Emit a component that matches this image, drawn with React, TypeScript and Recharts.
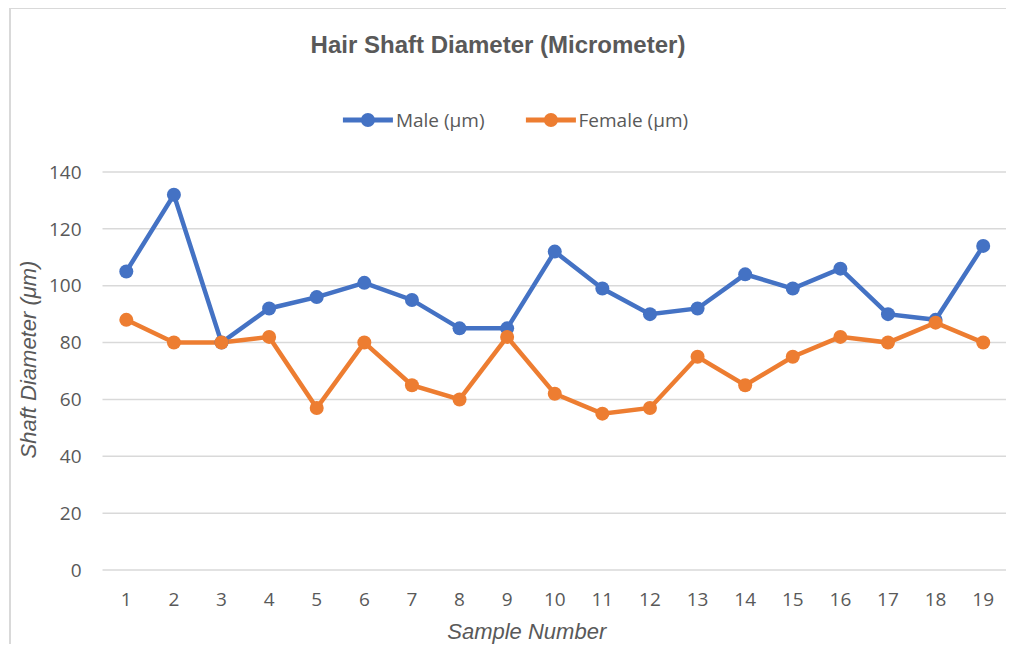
import React from "react";
import { LineChart, Line, XAxis, YAxis, CartesianGrid, Legend, Label } from "recharts";

const samples = ["1","2","3","4","5","6","7","8","9","10","11","12","13","14","15","16","17","18","19"];
const male = [105, 132, 80, 92, 96, 101, 95, 85, 85, 112, 99, 90, 92, 104, 99, 106, 90, 88, 114];
const female = [88, 80, 80, 82, 57, 80, 65, 60, 82, 62, 55, 57, 75, 65, 75, 82, 80, 87, 80];
const yTicks = [0, 20, 40, 60, 80, 100, 120, 140];

const title = "Hair Shaft Diameter (Micrometer)";
const maleName = "Male (µm)";
const femaleName = "Female (µm)";
const xTitle = "Sample Number";
const yTitle = "Shaft Diameter (μm)";

const BLUE = "#4472C4";
const ORANGE = "#ED7D31";
const TEXT = "#595959";
const FONT = "'Open Sans', sans-serif";

const data = samples.map((s, i) => ({ sample: s, male: male[i], female: female[i] }));

const LegendItem = ({ color, label }: { color: string; label: string }) => (
  <div style={{ display: "flex", alignItems: "center" }}>
    <svg width={52} height={16} style={{ display: "block" }}>
      <line x1={1} y1={8} x2={51} y2={8} stroke={color} strokeWidth={5} />
      <circle cx={26} cy={8} r={7} fill={color} />
    </svg>
    <span style={{ marginLeft: 2, fontFamily: FONT, fontSize: 19, color: TEXT, whiteSpace: "nowrap" }}>{label}</span>
  </div>
);

const TopContent = () => (
  <div style={{ position: "relative", width: 1003, height: 163 }}>
    <div
      style={{
        position: "absolute",
        left: 487,
        top: 36,
        transform: "translate(-50%, -50%)",
        fontFamily: "'Liberation Sans', Arial, sans-serif",
        fontWeight: "bold",
        fontSize: 24,
        color: TEXT,
        whiteSpace: "nowrap",
      }}
    >
      {title}
    </div>
    <div
      style={{
        position: "absolute",
        left: 504,
        top: 111,
        transform: "translate(-50%, -50%)",
        display: "flex",
        alignItems: "center",
        gap: 40,
      }}
    >
      <LegendItem color={BLUE} label={maleName} />
      <LegendItem color={ORANGE} label={femaleName} />
    </div>
  </div>
);

const XTitle = (props: any) => {
  const vb = props.viewBox || {};
  return (
    <text
      x={vb.x + vb.width / 2 - 28}
      y={vb.y + 63}
      textAnchor="middle"
      dominantBaseline="middle"
      fontFamily="'Liberation Sans', Arial, sans-serif"
      fontStyle="italic"
      fontSize={22}
      fill={TEXT}
    >
      {xTitle}
    </text>
  );
};

const YTitle = (props: any) => {
  const vb = props.viewBox || {};
  const cx = 19;
  const cy = vb.y + vb.height / 2 - 11.5;
  return (
    <text
      x={cx}
      y={cy}
      transform={`rotate(-90, ${cx}, ${cy})`}
      textAnchor="middle"
      dominantBaseline="middle"
      fontFamily="'Liberation Sans', Arial, sans-serif"
      fontStyle="italic"
      fontSize={22}
      fill={TEXT}
    >
      {yTitle}
    </text>
  );
};

export default function App() {
  return (
    <div
      style={{
        marginLeft: 1,
        width: 1005,
        height: 636,
        boxSizing: "border-box",
        borderLeft: "2px solid #d9d9d9",
        borderTop: "1px solid #d9d9d9",
        overflow: "hidden",
        background: "#fff",
      }}
    >
      <LineChart width={1003} height={635} data={data} margin={{ top: 0, right: 7, bottom: 0, left: 0 }}>
        <CartesianGrid vertical={false} stroke="#d9d9d9" strokeWidth={1.5} />
        <Legend
          verticalAlign="top"
          align="center"
          content={() => <TopContent />}
          wrapperStyle={{ left: 0, top: 0, width: 1003 }}
        />
        <XAxis
          dataKey="sample"
          axisLine={false}
          tickLine={false}
          height={74}
          tickMargin={17}
          padding={{ left: 23.8, right: 23.8 }}
          tick={{ fill: TEXT, fontSize: 19, fontFamily: FONT }}
          interval={0}
        >
          <Label content={<XTitle />} />
        </XAxis>
        <YAxis
          domain={[0, 140]}
          ticks={yTicks}
          width={91.5}
          axisLine={false}
          tickLine={false}
          tickMargin={15}
          tick={{ fill: TEXT, fontSize: 19, fontFamily: FONT }}
        >
          <Label content={<YTitle />} />
        </YAxis>
        <Line
          type="linear"
          dataKey="male"
          name={maleName}
          stroke={BLUE}
          strokeWidth={4.5}
          dot={{ r: 7, fill: BLUE, stroke: BLUE, strokeWidth: 0 }}
          activeDot={false}
          isAnimationActive={false}
        />
        <Line
          type="linear"
          dataKey="female"
          name={femaleName}
          stroke={ORANGE}
          strokeWidth={4.5}
          dot={{ r: 7, fill: ORANGE, stroke: ORANGE, strokeWidth: 0 }}
          activeDot={false}
          isAnimationActive={false}
        />
      </LineChart>
    </div>
  );
}
